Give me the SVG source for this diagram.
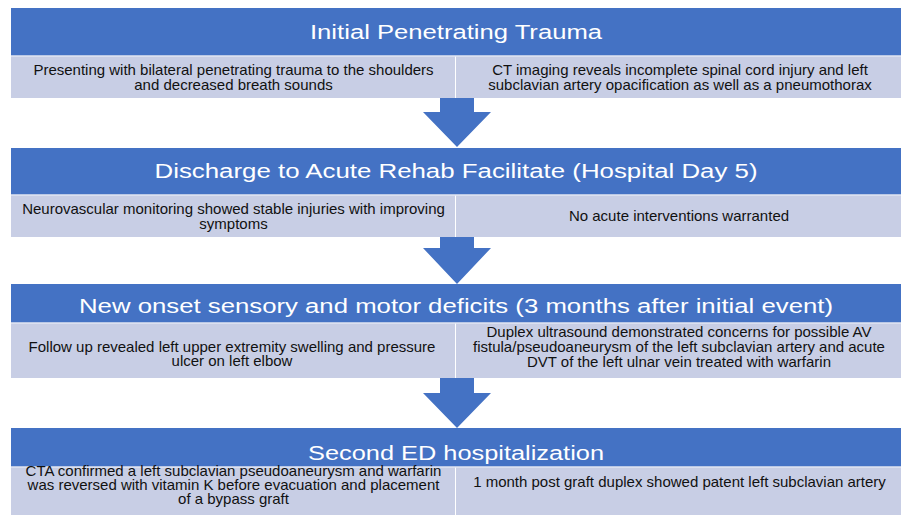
<svg xmlns="http://www.w3.org/2000/svg" width="901" height="515" viewBox="0 0 901 515">
<style>
.hdr{fill:#4472C4;}
.cell{fill:#C8CEE5;}
.sep{stroke:#E2E6F2;stroke-width:1.5;}
.ht{font-family:"Liberation Sans",Arial,sans-serif;font-size:20px;fill:#FFFFFF;text-anchor:middle;}
.bt{font-family:"Liberation Sans",Arial,sans-serif;font-size:15px;fill:#111111;text-anchor:middle;}
.arr{fill:#4472C4;}
</style>
<rect width="901" height="515" fill="#FFFFFF"/>
<g id="node1">
<rect class="hdr" x="11" y="8" width="890" height="48"/>
<rect class="cell" x="11" y="56" width="444" height="42"/>
<rect class="cell" x="456" y="56" width="445" height="42"/>
<line class="sep" x1="11" y1="56" x2="901" y2="56"/>
<text class="ht" x="456" y="38.5" textLength="292" lengthAdjust="spacingAndGlyphs">Initial Penetrating Trauma</text>
<text class="bt"><tspan x="233.5" y="75">Presenting with bilateral penetrating trauma to the shoulders</tspan><tspan x="233.5" y="89.5">and decreased breath sounds</tspan></text>
<text class="bt"><tspan x="680" y="75">CT imaging reveals incomplete spinal cord injury and left</tspan><tspan x="680" y="89.5">subclavian artery opacification as well as a pneumothorax</tspan></text>
</g>
<g id="node2">
<rect class="hdr" x="11" y="148" width="890" height="47"/>
<rect class="cell" x="11" y="195" width="444" height="42"/>
<rect class="cell" x="456" y="195" width="445" height="42"/>
<line class="sep" x1="11" y1="195" x2="901" y2="195"/>
<text class="ht" x="456" y="178" textLength="603" lengthAdjust="spacingAndGlyphs">Discharge to Acute Rehab Facilitate (Hospital Day 5)</text>
<text class="bt"><tspan x="233.5" y="213.5">Neurovascular monitoring showed stable injuries with improving</tspan><tspan x="233.5" y="228.5">symptoms</tspan></text>
<text class="bt" x="679" y="220.5">No acute interventions warranted</text>
</g>
<g id="node3">
<rect class="hdr" x="11" y="284" width="890" height="39"/>
<rect class="cell" x="11" y="323" width="444" height="55"/>
<rect class="cell" x="456" y="323" width="445" height="55"/>
<line class="sep" x1="11" y1="323" x2="901" y2="323"/>
<text class="ht" x="456" y="313" textLength="754" lengthAdjust="spacingAndGlyphs">New onset sensory and motor deficits (3 months after initial event)</text>
<text class="bt"><tspan x="232" y="351.5">Follow up revealed left upper extremity swelling and pressure</tspan><tspan x="232" y="366">ulcer on left elbow</tspan></text>
<text class="bt"><tspan x="679" y="337">Duplex ultrasound demonstrated concerns for possible AV</tspan><tspan x="679" y="352">fistula/pseudoaneurysm of the left subclavian artery and acute</tspan><tspan x="679" y="367">DVT of the left ulnar vein treated with warfarin</tspan></text>
</g>
<g id="node4">
<rect class="hdr" x="11" y="428" width="890" height="39"/>
<rect class="cell" x="11" y="467" width="444" height="48"/>
<rect class="cell" x="456" y="467" width="445" height="48"/>
<line class="sep" x1="11" y1="467" x2="901" y2="467"/>
<text class="ht" x="456" y="459.5" textLength="296" lengthAdjust="spacingAndGlyphs">Second ED hospitalization</text>
<text class="bt"><tspan x="233.5" y="476">CTA confirmed a left subclavian pseudoaneurysm and warfarin</tspan><tspan x="233.5" y="490">was reversed with vitamin K before evacuation and placement</tspan><tspan x="233.5" y="504">of a bypass graft</tspan></text>
<text class="bt" x="679.5" y="487">1 month post graft duplex showed patent left subclavian artery</text>
</g>
<g id="connectors">
<polygon class="arr" points="440,98 474,98 474,112 491,112 457,147 423,112 440,112"/>
<polygon class="arr" points="440,237 474,237 474,248 491,248 457,284 423,248 440,248"/>
<polygon class="arr" points="440,378 474,378 474,393 491,393 457,428 423,393 440,393"/>
</g>
</svg>
